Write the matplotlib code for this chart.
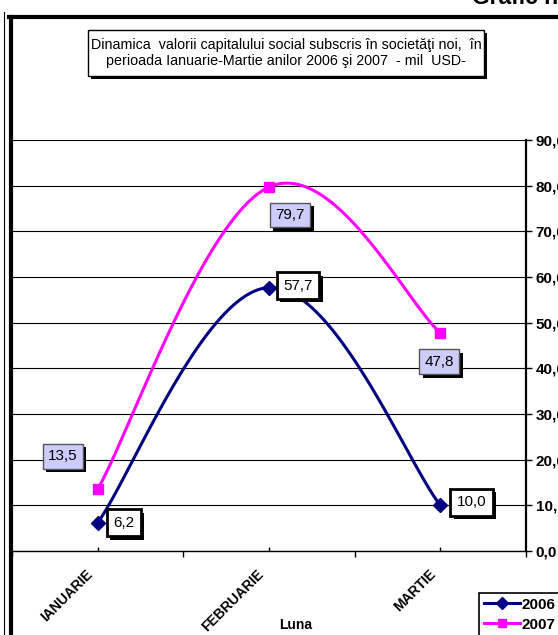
import numpy as np
import matplotlib
matplotlib.use("Agg")
import matplotlib.pyplot as plt
import matplotlib.patheffects as pe
from matplotlib.patches import Rectangle
from matplotlib.lines import Line2D

plt.rcParams['font.family'] = ['Liberation Sans', 'DejaVu Sans']

luni = ["IANUARIE", "FEBRUARIE", "MARTIE"]
v2006 = [6.2, 57.7, 10.0]
v2007 = [13.5, 79.7, 47.8]
yticks = [0, 10, 20, 30, 40, 50, 60, 70, 80, 90]
titlu = ("Dinamica  valorii capitalului social subscris în societăţi noi,  în\n"
         "perioada Ianuarie-Martie anilor 2006 şi 2007  - mil  USD-")

W, H = 558, 635
fig = plt.figure(figsize=(W / 100, H / 100), dpi=100)
ax = fig.add_axes([12 / W, 1 - 551 / H, (526 - 12) / W, (551 - 140) / H])


def smooth(xs, ys, k=1 / 6, n=60):
    # bezier de tip Excel (catmull-rom) prin puncte
    P = np.column_stack([xs, ys]).astype(float)
    out = [P[:1]]
    for i in range(len(P) - 1):
        p0 = P[max(i - 1, 0)]
        p1 = P[i]
        p2 = P[i + 1]
        p3 = P[min(i + 2, len(P) - 1)]
        c1 = p1 + (p2 - p0) * k
        c2 = p2 - (p3 - p1) * k
        t = np.linspace(0, 1, n)[1:, None]
        seg = ((1 - t) ** 3) * p1 + 3 * ((1 - t) ** 2) * t * c1 + 3 * (1 - t) * t ** 2 * c2 + t ** 3 * p2
        out.append(seg)
    c = np.vstack(out)
    return c[:, 0], c[:, 1]


x = np.arange(len(luni))
sx, sy = smooth(x, v2006, k=0.19)
ax.plot(sx, sy, color="#000080", lw=2.2, zorder=3)
ax.plot(x, v2006, ls="none", marker="D", color="#000080", ms=7, zorder=4)
sx, sy = smooth(x, v2007, k=0.19)
ax.plot(sx, sy, color="#FF00FF", lw=2.2, zorder=3)
ax.plot(x, v2007, ls="none", marker="s", color="#FF00FF", ms=7, zorder=4)

# etichete de date
off06 = [(26, 0), (29, 2), (31, 3)]
off07 = [(-35, 33), (21, -28), (-1, -29)]
shadow = [pe.SimplePatchShadow(offset=(2.5, -2.5), shadow_rgbFace="black", alpha=1), pe.Normal()]
for i in range(3):
    t = ax.annotate(f"{v2006[i]:.1f}".replace(".", ","), (x[i], v2006[i]),
                    xytext=off06[i], textcoords="offset pixels", ha="center", va="center",
                    fontsize=11, zorder=6,
                    bbox=dict(boxstyle="square,pad=0.42", fc="white", ec="black", lw=2))
    t.get_bbox_patch().set_path_effects(shadow)
    t = ax.annotate(f"{v2007[i]:.1f}".replace(".", ","), (x[i], v2007[i]),
                    xytext=off07[i], textcoords="offset pixels", ha="center", va="center",
                    fontsize=11, zorder=6,
                    bbox=dict(boxstyle="square,pad=0.35", fc="#CCCCFF", ec="#555555", lw=1))
    t.get_bbox_patch().set_path_effects(shadow)

ax.set_xlim(-0.5, 2.5)
ax.set_ylim(0, 90)
ax.yaxis.tick_right()
ax.set_yticks(yticks)
ax.set_yticklabels([f"{v:.1f}".replace(".", ",") for v in yticks], fontweight="bold", fontsize=11)
ax.tick_params(axis="y", direction="out", length=4, width=1, pad=3)
ax.yaxis.grid(True, color="black", lw=0.8)
ax.set_axisbelow(True)

ax.set_xticks(np.arange(-0.5, 3, 1))
ax.set_xticklabels([])
ax.tick_params(axis="x", which="major", direction="out", length=4, width=1)
ax.set_xticks(x, minor=True)
ax.tick_params(axis="x", which="minor", direction="in", length=3, width=1)
for i, lb in enumerate(luni):
    ax.annotate(lb, (x[i], 0), xycoords=("data", "axes fraction"), xytext=(-12, -16),
                textcoords="offset pixels", rotation=45, ha="right", va="top",
                rotation_mode="anchor", fontsize=10, fontweight="bold")

for s in ["top", "left"]:
    ax.spines[s].set_visible(False)
ax.spines["right"].set_linewidth(1.6)
ax.spines["bottom"].set_linewidth(1)

fig.text(296 / W, 1 - 625 / H, "Luna", ha="center", va="center", fontsize=10, fontweight="bold")

leg = ax.legend([Line2D([], [], color="#000080", lw=2.2, marker="D", ms=6),
                 Line2D([], [], color="#FF00FF", lw=2.2, marker="s", ms=6)],
                ["2006", "2007"], loc="upper left", bbox_to_anchor=(479 / W, 1 - 593 / H),
                bbox_transform=fig.transFigure, fancybox=False, edgecolor="black",
                framealpha=1, prop=dict(weight="bold", size=11), handlelength=2.4,
                handletextpad=0.1, borderpad=0.3, borderaxespad=0, labelspacing=0.4)
leg.get_frame().set_linewidth(1.2)

# caseta titlului
tx0, tx1, ty0, ty1 = 88, 484, 30, 76
fig.patches.append(Rectangle(((tx0 + 3) / W, 1 - (ty1 + 3) / H), (tx1 - tx0) / W, (ty1 - ty0) / H,
                             transform=fig.transFigure, fc="black", ec="none", zorder=1))
fig.patches.append(Rectangle((tx0 / W, 1 - ty1 / H), (tx1 - tx0) / W, (ty1 - ty0) / H,
                             transform=fig.transFigure, fc="white", ec="black", lw=1, zorder=2))
fig.text((tx0 + tx1) / 2 / W, 1 - 53 / H, titlu, ha="center", va="center", fontsize=10.3,
         linespacing=1.2, zorder=3)

# chenarul graficului
fig.add_artist(Line2D([10.5 / W, 10.5 / W], [0, 1 - 16.5 / H], transform=fig.transFigure, color="black", lw=3))
fig.add_artist(Line2D([9 / W, 1], [1 - 16.5 / H, 1 - 16.5 / H], transform=fig.transFigure, color="black", lw=3))
fig.add_artist(Line2D([4 / W, 4 / W], [0, 1 - 12 / H], transform=fig.transFigure, color="black", lw=0.8))
fig.text(472 / W, 1 - 4 / H, "Grafic nr. 1", ha="left", va="baseline", fontsize=16.5, fontweight="bold")

fig.savefig("out.png", dpi=100)
